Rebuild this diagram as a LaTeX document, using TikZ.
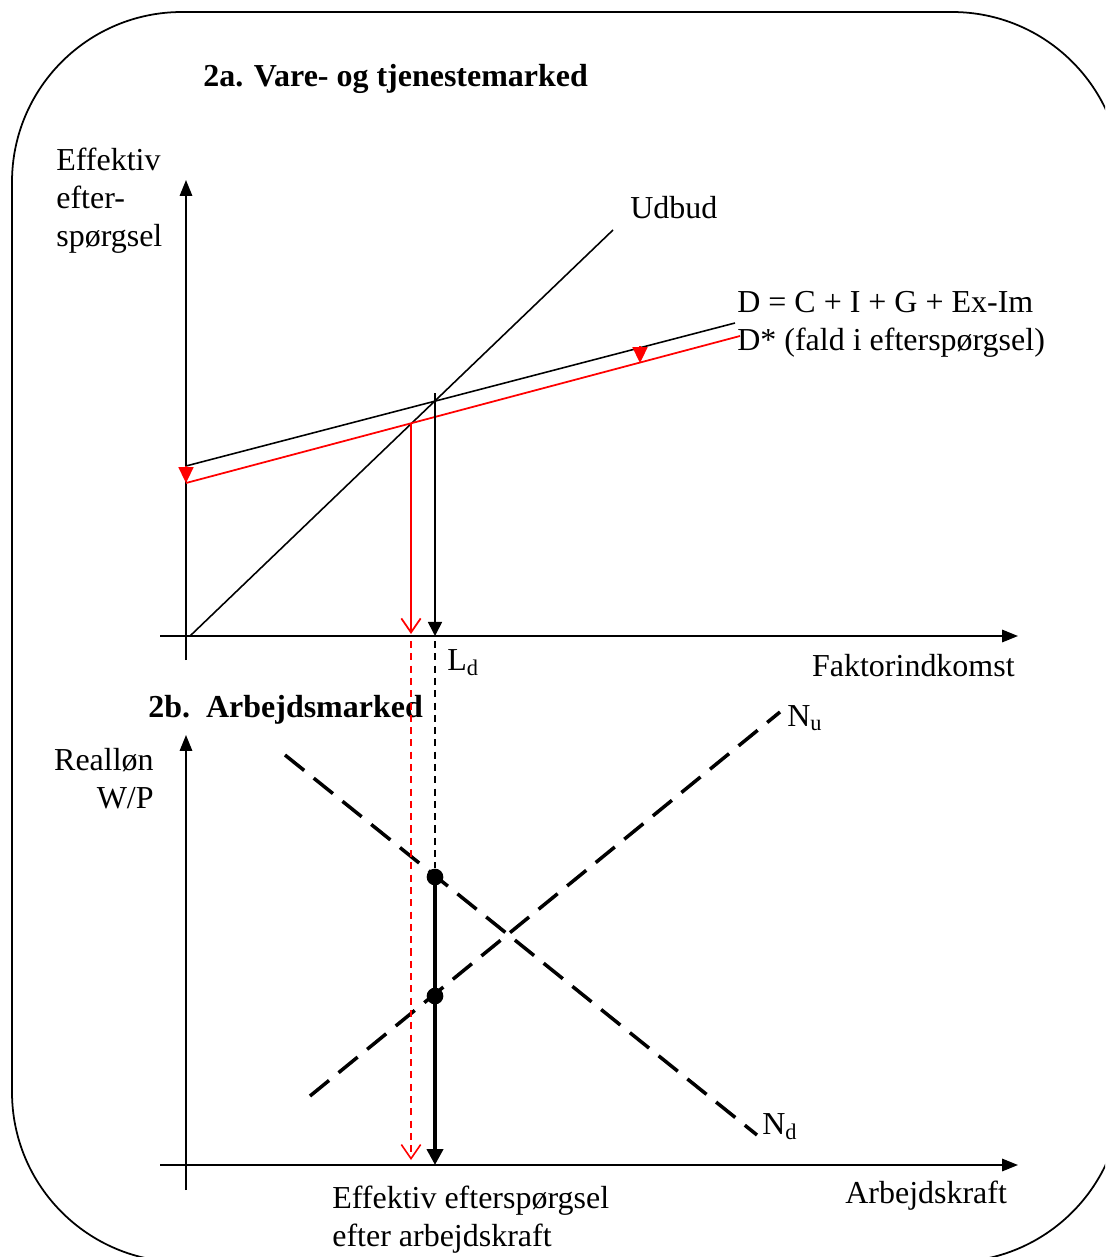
\documentclass[tikz,border=0pt]{standalone}
\usepackage{fontspec}
\setmainfont{Liberation Serif}
\usetikzlibrary{arrows.meta,positioning}

\begin{document}
\begin{tikzpicture}[x=0.02cm, y=-0.02cm, >=Stealth,
  font=\fontsize{18.2pt}{21.5pt}\selectfont,
  axis/.style={line width=1.1pt, -{Triangle[length=9pt,width=7pt]}},
  curve/.style={line width=0.9pt},
  dshift/.style={red, line width=1pt, -{Triangle[length=9pt,width=8.5pt]}},
  lab/.style={inner sep=0pt, anchor=base west},
  guide/.style={line width=0.9pt, dash pattern=on 4pt off 3pt},
  labour/.style={line width=2pt, dash pattern=on 14pt off 7pt},
  dot/.style={circle, fill, inner sep=0pt, minimum size=9.5pt}]
  \useasboundingbox (0,0) rectangle (1105,1257);
  \clip (0,0) rectangle (1105,1257);
  \draw[line width=1pt, rounded corners=3.4cm] (12,12) rectangle (1122,1262);

  % 2a: goods and services
  \node[lab, font=\fontsize{18.2pt}{21.5pt}\selectfont\bfseries] (title1) at (203,87) {2a. Vare- og tjenestemarked};
  \node[inner sep=0pt, anchor=north west, align=left] (yA) at (56,148) {Effektiv\\efter-\\spørgsel};
  \coordinate (oA) at (186,636);
  \coordinate (yAtop) at (186,180);
  \coordinate (yAbot) at (186,660);
  \coordinate (xAl) at (160,636);
  \coordinate (xAr) at (1018,636);
  \draw[axis] (yAbot) -- (yAtop);
  \draw[axis] (xAl) -- (xAr);

  \coordinate (s0) at (190,636);
  \coordinate (s1) at (613,230);
  \coordinate (d0) at (186,466);
  \coordinate (d1) at (735,323);
  \coordinate (r0) at (186,483);
  \coordinate (r1) at (740,336);
  \draw[curve] (s0) -- (s1);
  \draw[curve] (d0) -- (d1);
  \draw[curve, red, line width=1pt] (r0) -- (r1);
  \node[lab] (udbud) at (630,218) {Udbud};
  \node[lab] (dlab) at (737,312) {D = C + I + G + Ex-Im};
  \node[lab] (rlab) at (737,350) {D* (fald i efterspørgsel)};

  % shift of demand
  \coordinate (m0) at (640,346);
  \coordinate (m1) at (640,363);
  \draw[dshift] (d0) -- (r0);
  \draw[dshift] (m0) -- (m1);

  % equilibria
  \coordinate (eq) at (435,393);
  \coordinate (eqr) at (411,423);
  \coordinate (ld) at (435,636);
  \coordinate (ldr) at (411,634);
  \draw[line width=0.9pt, -{Triangle[length=8pt,width=8pt]}] (eq) -- (ld);
  \draw[red, line width=1pt, -{Straight Barb[length=8pt,width=11pt]}] (eqr) -- (ldr);
  \node[lab] (ldlab) at (447,670) {L\textsubscript{d}};
  \node[inner sep=0pt, anchor=base east] (xAlab) at (1015,676) {Faktorindkomst};

  % 2b: labour market
  \node[lab, font=\fontsize{18.2pt}{21.5pt}\selectfont\bfseries] (title2) at (148,717) {2b.\ \ Arbejdsmarked};
  \node[inner sep=0pt, anchor=north east, align=right] (yB) at (154,748) {Realløn\\W/P};
  \coordinate (yBtop) at (186,735);
  \coordinate (yBbot) at (186,1190);
  \coordinate (xBl) at (160,1165);
  \coordinate (xBr) at (1018,1165);
  \draw[axis] (yBbot) -- (yBtop);
  \draw[axis] (xBl) -- (xBr);

  \coordinate (nd0) at (285,755);
  \coordinate (nd1) at (757,1135);
  \coordinate (nu0) at (310,1096);
  \coordinate (nu1) at (780,712);
  \draw[labour] (nd0) -- (nd1);
  \draw[labour] (nu0) -- (nu1);
  \node[lab] (nulab) at (787,726) {N\textsubscript{u}};
  \node[lab] (ndlab) at (762,1134) {N\textsubscript{d}};

  \node[dot] (p1) at (435,877) {};
  \node[dot] (p2) at (435,996) {};
  \coordinate (lb) at (435,1165);
  \coordinate (lbr) at (411,1160);
  \coordinate (ldd) at (435,641);
  \coordinate (ldrd) at (411,641);
  \draw[guide] (ldd) -- (p1);
  \draw[guide, red, -{Straight Barb[length=8pt,width=11pt]}] (ldrd) -- (lbr);
  \draw[line width=2.3pt, -{Triangle[length=9pt,width=9pt]}] (p1.center) -- (lb);

  \node[inner sep=0pt, anchor=north west, align=left] (xBlab1) at (332,1186) {Effektiv efterspørgsel\\efter arbejdskraft};
  \node[lab] (xBlab) at (845,1203) {Arbejdskraft};
\end{tikzpicture}
\end{document}
